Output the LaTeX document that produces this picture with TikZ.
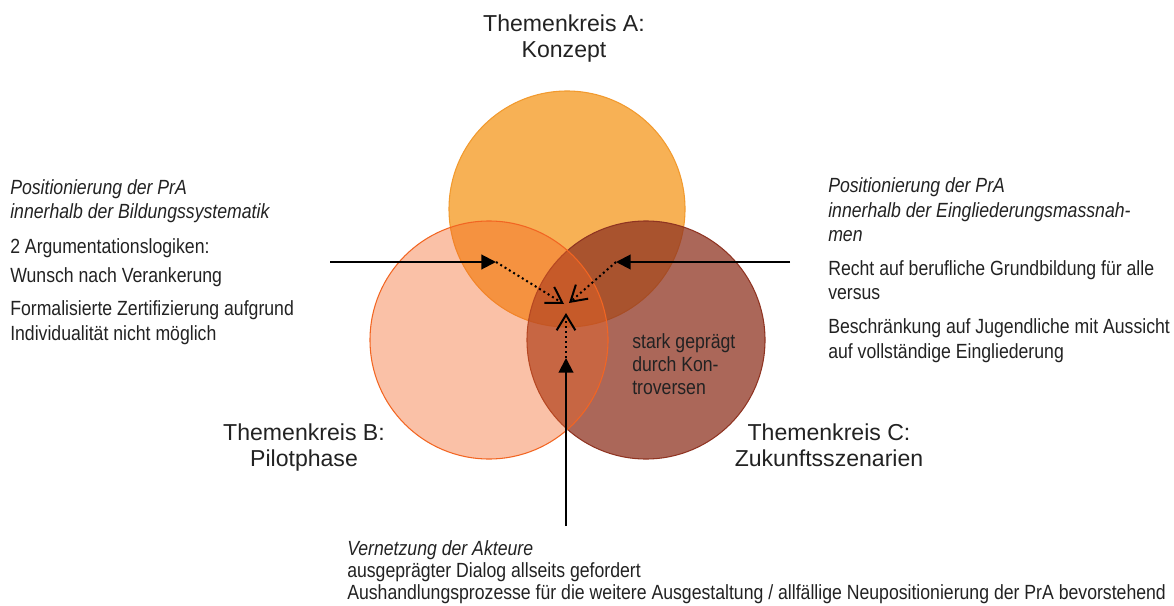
\documentclass[tikz,border=0pt]{standalone}
\usepackage{fontspec}
\setmainfont{Liberation Sans}
\newfontfamily\schmal[FakeStretch=0.86]{Liberation Sans}
\usetikzlibrary{arrows.meta}
\definecolor{tinte}{HTML}{222222}
\definecolor{sonne}{HTML}{F7B155}
\definecolor{sonnerand}{HTML}{F29A2E}
\definecolor{pfirsich}{HTML}{F26522}
\definecolor{rost}{HTML}{8F3422}
\tikzset{
  titel/.style={font=\fontsize{17.3}{19.5}\selectfont,align=center,text=tinte,inner sep=0pt,anchor=base},
  notiz/.style={font=\schmal\fontsize{15.4}{18.4}\selectfont,align=left,text=tinte,inner sep=0pt,anchor=base west},
  vollpfeil/.style={line width=1.5pt,-{Triangle[length=11pt,width=11pt]}},
  punktpfeil/.style={line width=1.5pt,dash pattern=on 1.5pt off 2.3pt,-{Straight Barb[length=11.5pt,width=14pt]}}
}
\begin{document}
\begin{tikzpicture}[x=0.75pt,y=-0.75pt]
\useasboundingbox (0,0) rectangle (1174,606);
\foreach \nm/\cx/\cy/\rr/\cl/\ed/\op in {A/567/209/118/sonne/sonnerand/1,C/646/340/119/rost/rost/0.75,B/489/340/119/pfirsich/pfirsich/0.4}{
  \filldraw[fill=\cl,fill opacity=\op,draw=\ed,line width=0.8pt] (\cx,\cy) circle[radius={\rr*0.75pt}];}
\node[titel] (titelA) at (564,58) {Themenkreis A:\\Konzept};
\node[titel] (titelB) at (304,466) {Themenkreis B:\\Pilotphase};
\node[titel] (titelC) at (829,466) {Themenkreis C:\\Zukunftsszenarien};
\node[notiz] (links) at (10,340) {\textit{Positionierung der PrA}\\\textit{innerhalb der Bildungssystematik}\\[7.5pt]
  2 Argumentationslogiken:\\[3.75pt]Wunsch nach Verankerung\\[6pt]
  Formalisierte Zertifizierung aufgrund\\Individualität nicht möglich};
\node[notiz] (rechts) at (828,358) {\textit{Positionierung der PrA}\\\textit{innerhalb der Eingliederungsmassnah-}\\\textit{men}\\[6.75pt]
  Recht auf berufliche Grundbildung für alle\\versus\\[6.75pt]
  Beschränkung auf Jugendliche mit Aussicht\\auf vollständige Eingliederung};
\node[notiz,font=\schmal\fontsize{15.4}{16.9}\selectfont] (mitte) at (632,394) {stark geprägt\\durch Kon-\\troversen};
\node[notiz,font=\schmal\fontsize{15.4}{16.5}\selectfont] (unten) at (347,599) {\textit{Vernetzung der Akteure}\\ausgeprägter Dialog allseits gefordert\\
  Aushandlungsprozesse für die weitere Ausgestaltung / allfällige Neupositionierung der PrA bevorstehend};
\coordinate (lstart) at (330,262);
\coordinate (lspitze) at (496,262);
\coordinate (lende) at (564,304);
\coordinate (rstart) at (790,262);
\coordinate (rspitze) at (616,262);
\coordinate (rende) at (569,303);
\coordinate (ustart) at (566,526);
\coordinate (uspitze) at (566,358);
\coordinate (uende) at (566,313);
\draw[vollpfeil] (lstart) -- (lspitze);
\draw[punktpfeil] (lspitze) -- (lende);
\draw[vollpfeil] (rstart) -- (rspitze);
\draw[punktpfeil] (rspitze) -- (rende);
\draw[vollpfeil] (ustart) -- (uspitze);
\draw[punktpfeil] (uspitze) -- (uende);
\end{tikzpicture}
\end{document}
